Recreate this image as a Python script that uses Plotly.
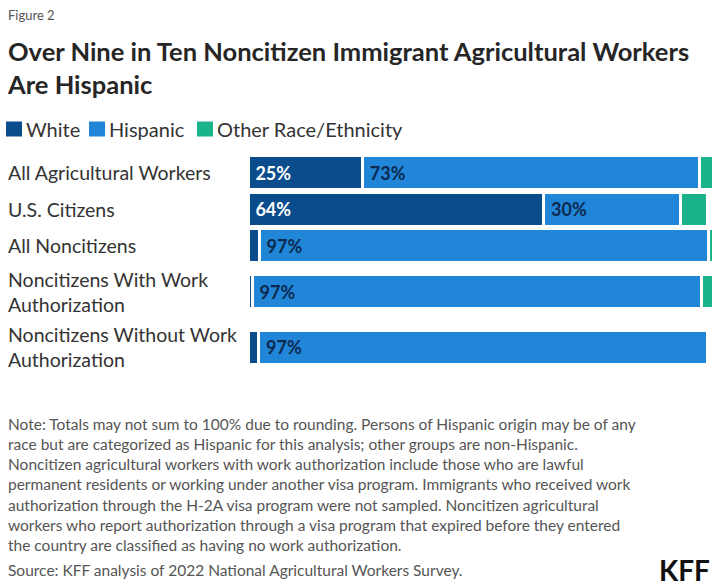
import plotly.graph_objects as go

categories = [
    "All Agricultural Workers",
    "U.S. Citizens",
    "All Noncitizens",
    "Noncitizens With Work Authorization",
    "Noncitizens Without Work Authorization",
]
category_labels = [
    "All Agricultural Workers",
    "U.S. Citizens",
    "All Noncitizens",
    "Noncitizens With Work<br>Authorization",
    "Noncitizens Without Work<br>Authorization",
]
white = [24.6, 63.6, 2.4, 0.9, 2.3]
hispanic = [72.6, 29.5, 96.6, 96.6, 96.6]
other = [2.8, 5.8, 1.0, 2.5, 0.0]

series_names = ["White", "Hispanic", "Other Race/Ethnicity"]

FONT = "Lato"
colors = ["#0b4c8c", "#2185d8", "#1bb38a"]
text_colors = ["#ffffff", "#0c2a50", "#0c2a50"]

# row layout: two-line labels get extra room (as in the original)
lines = [lab.count("<br>") + 1 for lab in category_labels]
row_pos = [0.0]
for i in range(1, len(lines)):
    row_pos.append(row_pos[-1] + 1 + 0.26 * ((lines[i - 1] - 1) + (lines[i] - 1)))


def labels(vals):
    return ["\u00a0" + f"{v:.0f}%" if v >= 10 else "" for v in vals]


fig = go.Figure()
for name, vals, col, tcol in zip(series_names, [white, hispanic, other], colors, text_colors):
    fig.add_trace(go.Bar(
        y=row_pos, x=vals, name=name, orientation="h", width=0.93,
        marker=dict(color=col, line=dict(color="white", width=3)),
        text=labels(vals), textposition="inside", insidetextanchor="start",
        textfont=dict(family=FONT, size=18, color=tcol, weight="bold"),
        hoverinfo="skip", showlegend=False,
    ))

W, H = 720, 586
L, R, T, B = 248, 7, 151, 217
pw, ph = W - L - R, H - T - B


def px_x(p):
    return (p - L) / pw


def px_y(p):
    return (H - B - p) / ph


annotations = [
    dict(text="Figure 2", x=px_x(6), y=px_y(15), xanchor="left", yanchor="middle",
         font=dict(family=FONT, size=13, color="#555555")),
    dict(text="<b>Over Nine in Ten Noncitizen Immigrant Agricultural Workers<br>Are Hispanic</b>",
         x=px_x(5), y=px_y(68), xanchor="left", yanchor="middle", align="left",
         font=dict(family=FONT, size=25.5, color="#262626")),
    dict(text=("Note: Totals may not sum to 100% due to rounding. Persons of Hispanic origin may be of any<br>"
               "race but are categorized as Hispanic for this analysis; other groups are non-Hispanic.<br>"
               "Noncitizen agricultural workers with work authorization include those who are lawful<br>"
               "permanent residents or working under another visa program. Immigrants who received work<br>"
               "authorization through the H-2A visa program were not sampled. Noncitizen agricultural<br>"
               "workers who report authorization through a visa program that expired before they entered<br>"
               "the country are classified as having no work authorization."),
         x=px_x(6), y=px_y(413), xanchor="left", yanchor="top", align="left",
         font=dict(family=FONT, size=15.5, color="#555555")),
    dict(text="Source: KFF analysis of 2022 National Agricultural Workers Survey.",
         x=px_x(6), y=px_y(570), xanchor="left", yanchor="middle", align="left",
         font=dict(family=FONT, size=15.5, color="#555555")),
    dict(text="<b>KFF</b>", x=px_x(712), y=px_y(570), xanchor="right", yanchor="middle",
         font=dict(family=FONT, size=28, color="#111111")),
]

# legend (compact swatches as in the original)
legend_swatch_x = [6, 89, 197]
SW, SH, LEG_Y = 16, 15, 129
shapes = []
for name, col, lx in zip(series_names, colors, legend_swatch_x):
    shapes.append(dict(type="rect", xref="paper", yref="paper",
                       x0=px_x(lx), x1=px_x(lx + SW),
                       y0=px_y(LEG_Y - SH / 2), y1=px_y(LEG_Y + SH / 2),
                       fillcolor=col, line=dict(width=0)))
    annotations.append(dict(
        text=name, x=px_x(lx + SW + 2), y=px_y(LEG_Y), xanchor="left", yanchor="middle",
        font=dict(family=FONT, size=20, color="#333333"),
    ))

for pos, lab in zip(row_pos, category_labels):
    annotations.append(dict(
        text=lab, x=px_x(6), xref="paper", y=pos, yref="y",
        xanchor="left", yanchor="middle", align="left",
        font=dict(family=FONT, size=19.5, color="#333333"),
    ))
for a in annotations:
    a.setdefault("xref", "paper")
    a.setdefault("yref", "paper")
    a["showarrow"] = False

fig.update_layout(
    width=W, height=H,
    margin=dict(l=L, r=R, t=T, b=B, pad=0, autoexpand=False),
    barmode="stack",
    paper_bgcolor="white", plot_bgcolor="white",
    font=dict(family=FONT, color="#333333"),
    showlegend=False,
    xaxis=dict(range=[0, 100], visible=False, fixedrange=True),
    yaxis=dict(range=[row_pos[-1] + 0.6, -0.6], visible=False, fixedrange=True),
    annotations=annotations,
    shapes=shapes,
    uniformtext=dict(mode="show", minsize=10),
)

fig.write_html("out.html", config={"displayModeBar": False})
